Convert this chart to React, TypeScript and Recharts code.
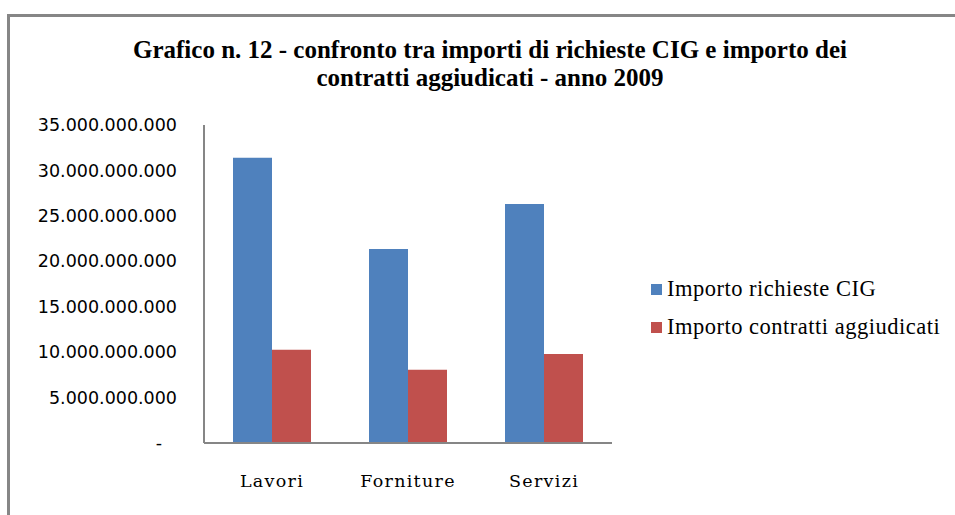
import { BarChart, Bar, XAxis, YAxis } from 'recharts';

const categories = ['Lavori', 'Forniture', 'Servizi'];
const importoRichiesteCig = [31.4e9, 21.35e9, 26.3e9];
const importoContratti = [10.25e9, 8.05e9, 9.8e9];
const yTicks = [0, 5e9, 10e9, 15e9, 20e9, 25e9, 30e9, 35e9];

const SERIES = [
  { key: 'richieste', name: 'Importo richieste CIG', color: '#4F81BD' },
  { key: 'contratti', name: 'Importo contratti aggiudicati', color: '#C0504D' },
];

const data = categories.map((c, i) => ({
  name: c,
  richieste: importoRichiesteCig[i],
  contratti: importoContratti[i],
}));

const fmtIt = (v: number) =>
  v === 0 ? '-' : String(Math.round(v)).replace(/\B(?=(\d{3})+(?!\d))/g, '.');

// accounting-style axis: the zero dash sits a bit left of the digits
function YTick({ x, y, payload }: { x?: number; y?: number; payload?: { value: number } }) {
  const v = payload?.value ?? 0;
  return (
    <text x={(x ?? 0) - (v === 0 ? 15 : 0)} y={y} dy="0.355em" textAnchor="end"
      fill="#000" style={{ fontSize: 17.5, fontFamily: '"DejaVu Sans", sans-serif' }}>
      {fmtIt(v)}
    </text>
  );
}

function LegendBox() {
  return (
    <div style={{
      position: 'absolute', left: 651, top: 270,
      fontFamily: '"Liberation Serif", serif', fontSize: 22.5, color: '#000',
    }}>
      {SERIES.map((s) => (
        <div key={s.key} style={{ display: 'flex', alignItems: 'center', height: 38 }}>
          <span style={{ width: 11, height: 11, background: s.color, marginRight: 5, display: 'inline-block' }} />
          <span style={{ letterSpacing: 0.5 }}>{s.name}</span>
        </div>
      ))}
    </div>
  );
}

export default function App() {
  return (
    <div style={{ position: 'absolute', left: 0, top: 0, width: 955, height: 515, overflow: 'hidden', background: '#fff' }}>
      <div style={{
        position: 'absolute', left: 7, top: 14, width: 1100, height: 700,
        border: '3px solid #868686', boxSizing: 'border-box',
      }} />
      <div style={{
        position: 'absolute', left: 0, top: 36, width: 980, textAlign: 'center',
        fontFamily: '"Liberation Serif", serif', fontWeight: 'bold', fontSize: 25,
        lineHeight: '28px', color: '#000',
      }}>
        Grafico n. 12 - confronto tra importi di richieste CIG e importo dei<br />
        contratti aggiudicati - anno 2009
      </div>
      <div style={{ position: 'absolute', left: 0, top: 0 }}>
        <BarChart
          width={955} height={515} data={data}
          margin={{ top: 125, right: 343, bottom: 0, left: 0 }}
          barCategoryGap={29} barGap={0}
        >
          <XAxis
            dataKey="name" height={72} tickLine={false} tickSize={0} tickMargin={32}
            interval={0}
            axisLine={{ stroke: '#868686', strokeWidth: 2 }}
            tick={{ fill: '#000', fontSize: 17.5, fontFamily: '"DejaVu Serif", serif', letterSpacing: 1.3 }}
          />
          <YAxis
            width={204} domain={[0, 35e9]} ticks={yTicks} interval={0}
            tickLine={false} tickSize={0} tickMargin={27}
            axisLine={{ stroke: '#868686', strokeWidth: 2 }}
            tick={<YTick />}
          />
          <Bar dataKey="richieste" name={SERIES[0].name} fill={SERIES[0].color} isAnimationActive={false} />
          <Bar dataKey="contratti" name={SERIES[1].name} fill={SERIES[1].color} isAnimationActive={false} />
        </BarChart>
      </div>
      <LegendBox />
    </div>
  );
}
